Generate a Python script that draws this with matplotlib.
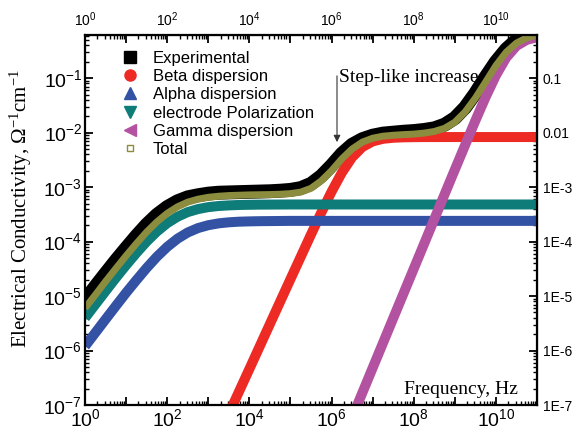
import numpy as np
import matplotlib.pyplot as plt
from matplotlib.lines import Line2D
from matplotlib.ticker import LogLocator, FuncFormatter, NullFormatter

plt.rcParams['font.family'] = ['Liberation Sans', 'DejaVu Sans']

# frequency points, a quarter of a decade apart (Hz)
freq = [1e0, 1.78e0, 3.16e0, 5.62e0, 1e1, 1.78e1, 3.16e1, 5.62e1,
        1e2, 1.78e2, 3.16e2, 5.62e2, 1e3, 1.78e3, 3.16e3, 5.62e3,
        1e4, 1.78e4, 3.16e4, 5.62e4, 1e5, 1.78e5, 3.16e5, 5.62e5,
        1e6, 1.78e6, 3.16e6, 5.62e6, 1e7, 1.78e7, 3.16e7, 5.62e7,
        1e8, 1.78e8, 3.16e8, 5.62e8, 1e9, 1.78e9, 3.16e9, 5.62e9,
        1e10, 1.78e10, 3.16e10, 5.62e10, 1e11]

nan = np.nan
experimental = [8.5e-6, 1.5e-5, 2.6e-5, 4.5e-5, 7.6e-5, 1.27e-4, 2.05e-4, 3.1e-4,
                4.3e-4, 5.5e-4, 6.5e-4, 7.1e-4, 7.6e-4, 7.9e-4, 8.0e-4, 8.1e-4,
                8.2e-4, 8.3e-4, 8.4e-4, 8.6e-4, 8.9e-4, 9.6e-4, 1.15e-3, 1.6e-3,
                2.5e-3, 4.1e-3, 6.0e-3, 7.6e-3, 8.8e-3, 9.6e-3, 1.0e-2, 1.04e-2,
                1.07e-2, 1.12e-2, 1.2e-2, 1.4e-2, 1.85e-2, 2.9e-2, 5.3e-2, 0.105,
                0.2, 0.34, 0.5, 0.62, 0.7]
beta = [nan, nan, nan, nan, nan, nan, nan, nan,
        nan, nan, nan, nan, nan, nan, 6.87e-8, 1.78e-7,
        4.59e-7, 1.19e-6, 3.07e-6, 7.93e-6, 2.05e-5, 5.27e-5, 1.35e-4, 3.4e-4,
        8.25e-4, 1.84e-3, 3.52e-3, 5.45e-3, 6.9e-3, 7.7e-3, 8.06e-3, 8.2e-3,
        8.26e-3, 8.29e-3, 8.29e-3, 8.3e-3, 8.3e-3, 8.3e-3, 8.3e-3, 8.3e-3,
        8.3e-3, 8.3e-3, 8.3e-3, 8.3e-3, 8.3e-3]
alpha = [1.2e-6, 2.12e-6, 3.74e-6, 6.58e-6, 1.15e-5, 1.96e-5, 3.28e-5, 5.28e-5,
         8.0e-5, 1.13e-4, 1.47e-4, 1.77e-4, 2.0e-4, 2.16e-4, 2.26e-4, 2.32e-4,
         2.35e-4, 2.37e-4, 2.38e-4, 2.39e-4, 2.4e-4, 2.4e-4, 2.4e-4, 2.4e-4,
         2.4e-4, 2.4e-4, 2.4e-4, 2.4e-4, 2.4e-4, 2.4e-4, 2.4e-4, 2.4e-4,
         2.4e-4, 2.4e-4, 2.4e-4, 2.4e-4, 2.4e-4, 2.4e-4, 2.4e-4, 2.4e-4,
         2.4e-4, 2.4e-4, 2.4e-4, 2.4e-4, 2.4e-4]
electrode = [3.96e-6, 7.0e-6, 1.23e-5, 2.15e-5, 3.69e-5, 6.18e-5, 1.0e-4, 1.53e-4,
             2.18e-4, 2.86e-4, 3.48e-4, 3.95e-4, 4.29e-4, 4.5e-4, 4.62e-4, 4.7e-4,
             4.74e-4, 4.77e-4, 4.78e-4, 4.79e-4, 4.8e-4, 4.8e-4, 4.8e-4, 4.8e-4,
             4.8e-4, 4.8e-4, 4.8e-4, 4.8e-4, 4.8e-4, 4.8e-4, 4.8e-4, 4.8e-4,
             4.8e-4, 4.8e-4, 4.8e-4, 4.8e-4, 4.8e-4, 4.8e-4, 4.8e-4, 4.8e-4,
             4.8e-4, 4.8e-4, 4.8e-4, 4.8e-4, 4.8e-4]
gamma = [nan, nan, nan, nan, nan, nan, nan, nan,
         nan, nan, nan, nan, nan, nan, nan, nan,
         nan, nan, nan, nan, nan, nan, nan, nan,
         nan, nan, 5.9e-8, 1.68e-7, 4.8e-7, 1.37e-6, 3.9e-6, 1.11e-5,
         3.17e-5, 9.04e-5, 2.58e-4, 7.34e-4, 2.09e-3, 5.91e-3, 1.66e-2, 4.49e-2,
         0.1125, 0.238, 0.391, 0.505, 0.563]
total = [6.0e-6, 1.05e-5, 1.85e-5, 3.2e-5, 5.5e-5, 9.2e-5, 1.5e-4, 2.3e-4,
         3.3e-4, 4.35e-4, 5.3e-4, 6.0e-4, 6.5e-4, 6.8e-4, 7.0e-4, 7.1e-4,
         7.2e-4, 7.25e-4, 7.3e-4, 7.4e-4, 7.6e-4, 8.1e-4, 9.5e-4, 1.3e-3,
         2.0e-3, 3.3e-3, 5.0e-3, 6.7e-3, 7.9e-3, 8.6e-3, 8.95e-3, 9.2e-3,
         9.4e-3, 9.8e-3, 1.05e-2, 1.2e-2, 1.55e-2, 2.4e-2, 4.3e-2, 8.5e-2,
         0.17, 0.3, 0.44, 0.55, 0.62]

c_exp = 'black'
c_beta = '#ee2a24'
c_alpha = '#3352a4'
c_elec = '#0e7c78'
c_gamma = '#b452a2'
c_total = '#8c8c3e'

fig = plt.figure(figsize=(5.76, 4.38), dpi=100)
ax = fig.add_axes([0.1476, 0.0753, 0.7847, 0.8448])
ax.set_xscale('log')
ax.set_yscale('log')

kw = dict(solid_capstyle='butt', solid_joinstyle='round')
ax.plot(freq, experimental, color=c_exp, lw=10, **kw)
ax.plot(freq, beta, color=c_beta, lw=7.2, **kw)
ax.plot(freq, alpha, color=c_alpha, lw=7.2, **kw)
ax.plot(freq, electrode, color=c_elec, lw=7.2, **kw)
ax.plot(freq, gamma, color=c_gamma, lw=7.2, **kw)
ax.plot(freq, total, color=c_total, lw=5, **kw)

ax.set_xlim(1, 1e11)
ax.set_ylim(1e-7, 0.62)

# ticks
def bottom_fmt(v, pos):
    e = int(round(np.log10(v)))
    return r'$\mathregular{10^{%d}}$' % e if e % 2 == 0 else ''

def left_fmt(v, pos):
    e = int(round(np.log10(v)))
    return r'$\mathregular{10^{%d}}$' % e

right_names = {-1: '0.1', -2: '0.01', -3: '1E-3', -4: '1E-4', -5: '1E-5',
               -6: '1E-6', -7: '1E-7'}

def right_fmt(v, pos):
    e = int(round(np.log10(v)))
    return right_names.get(e, '')

for axis in [ax.xaxis, ax.yaxis]:
    axis.set_major_locator(LogLocator(base=10, numticks=20))
    axis.set_minor_locator(LogLocator(base=10, subs=range(2, 10), numticks=20))
    axis.set_minor_formatter(NullFormatter())
ax.xaxis.set_major_formatter(FuncFormatter(bottom_fmt))
ax.yaxis.set_major_formatter(FuncFormatter(left_fmt))
ax.tick_params(which='both', direction='in', width=1.3, labelsize=14, pad=2)
ax.tick_params(which='major', length=6)
ax.tick_params(which='minor', length=3, width=1.0)
for s in ax.spines.values():
    s.set_linewidth(1.6)

secx = ax.secondary_xaxis('top')
secx.xaxis.set_major_locator(LogLocator(base=10, numticks=20))
secx.xaxis.set_minor_locator(LogLocator(base=10, subs=range(2, 10), numticks=20))
secx.xaxis.set_major_formatter(FuncFormatter(bottom_fmt))
secx.xaxis.set_minor_formatter(NullFormatter())
secx.tick_params(which='both', direction='in', width=1.3, labelsize=10, pad=4)
secx.tick_params(which='major', length=6)
secx.tick_params(which='minor', length=3, width=1.0)

secy = ax.secondary_yaxis('right')
secy.yaxis.set_major_locator(LogLocator(base=10, numticks=20))
secy.yaxis.set_minor_locator(LogLocator(base=10, subs=range(2, 10), numticks=20))
secy.yaxis.set_major_formatter(FuncFormatter(right_fmt))
secy.yaxis.set_minor_formatter(NullFormatter())
secy.tick_params(which='both', direction='in', width=1.3, labelsize=10, pad=4)
secy.tick_params(which='major', length=6)
secy.tick_params(which='minor', length=3, width=1.0)

ax.set_ylabel(r'Electrical Conductivity, $\mathregular{\Omega^{-1}cm^{-1}}$',
              family='Liberation Serif', fontsize=15)
ax.yaxis.set_label_coords(-0.112, 0.53)

ax.text(0.958, 0.043, 'Frequency, Hz', transform=ax.transAxes, ha='right',
        va='center', family='Liberation Serif', fontsize=14)
ax.annotate('', xy=(0.5575, 0.703), xytext=(0.5575, 0.897),
            xycoords='axes fraction',
            arrowprops=dict(arrowstyle='-|>', color='#333333', lw=0.8,
                            mutation_scale=10))
ax.text(0.562, 0.884, 'Step-like increase', transform=ax.transAxes, ha='left',
        va='center', family='Liberation Serif', fontsize=14)

handles = [
    Line2D([], [], ls='none', marker='s', color=c_exp, markersize=8),
    Line2D([], [], ls='none', marker='o', color=c_beta, markersize=8),
    Line2D([], [], ls='none', marker='^', color=c_alpha, markersize=8),
    Line2D([], [], ls='none', marker='v', color=c_elec, markersize=8),
    Line2D([], [], ls='none', marker='<', color=c_gamma, markersize=8),
    Line2D([], [], ls='none', marker='s', markerfacecolor='none',
           markeredgecolor=c_total, markersize=4),
]
labels = ['Experimental', 'Beta dispersion', 'Alpha dispersion',
          'electrode Polarization', 'Gamma dispersion', 'Total']
ax.legend(handles, labels, loc='upper left', bbox_to_anchor=(0.081, 0.958),
          frameon=False, fontsize=12, handlelength=1.0, handletextpad=0.88,
          labelspacing=0.2, borderpad=0, borderaxespad=0)

fig.savefig('out.png', dpi=100)
